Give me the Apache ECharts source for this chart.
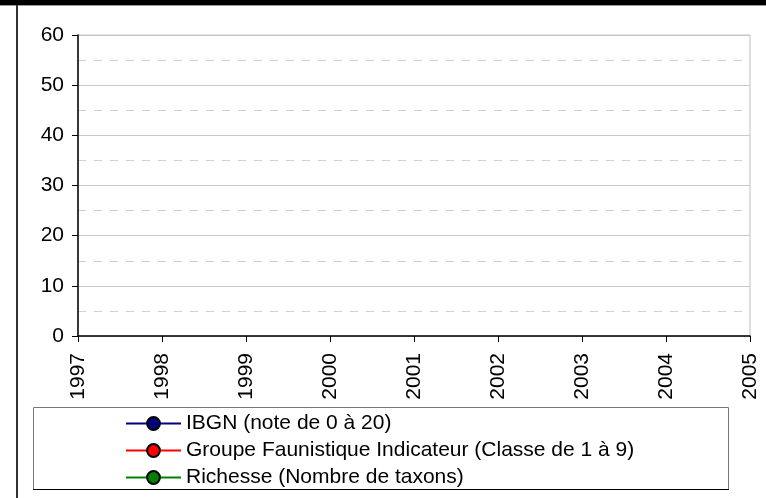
<!DOCTYPE html>
<html>
<head>
<meta charset="utf-8">
<script src="https://cdn.jsdelivr.net/npm/echarts@6/dist/echarts.min.js"></script>
<style>
html, body { margin: 0; padding: 0; background: #fff; }
#charts { width: 766px; height: 498px; }
</style>
</head>
<body>
<div id="charts"></div>
<script>
// annees de l'axe x
var years = ['1997', '1998', '1999', '2000', '2001', '2002', '2003', '2004', '2005'];
// aucune valeur mesuree sur la periode
var ibgnValues = [];
var gfiValues = [];
var richesseValues = [];
var seriesNames = ['IBGN (note de 0 à 20)', 'Groupe Faunistique Indicateur (Classe de 1 à 9)', 'Richesse (Nombre de taxons)'];
var seriesColors = ['#000080', '#ff0000', '#008000'];
var yTicks = [0, 10, 20, 30, 40, 50, 60];

var font = 'Arial, "Liberation Sans", sans-serif';

function makeSeries(i, values) {
	return {
		name: seriesNames[i],
		type: 'line',
		data: values,
		symbol: 'circle',
		symbolSize: 13,
		lineStyle: { color: seriesColors[i], width: 2 },
		itemStyle: { color: seriesColors[i], borderColor: '#000', borderWidth: 1.5 }
	};
}

var myChart = echarts.init(document.getElementById('charts'));
var option = {
	animation: false,
	backgroundColor: '#fff',
	textStyle: { fontFamily: font },
	graphic: [
		// cadre du graphique
		{ type: 'rect', shape: { x: 0, y: 0, width: 766, height: 5 }, style: { fill: '#000' }, z: 10 },
		{ type: 'line', shape: { x1: 0, y1: 5.5, x2: 766, y2: 5.5 }, style: { stroke: '#999', lineWidth: 1 }, z: 10 },
		{ type: 'rect', shape: { x: 16, y: 5, width: 2, height: 493 }, style: { fill: '#333' }, z: 10 },
		// boite de la legende
		{ type: 'rect', shape: { x: 33.5, y: 407.5, width: 695, height: 82 }, style: { fill: '#fff', stroke: '#777', lineWidth: 1 }, z: 0 },
		{ type: 'line', shape: { x1: 33, y1: 489.5, x2: 729, y2: 489.5 }, style: { stroke: '#000', lineWidth: 1 }, z: 1 }
	],
	legend: {
		orient: 'vertical',
		left: 125,
		top: 413,
		padding: 0,
		itemWidth: 55,
		itemHeight: 16,
		itemGap: 6,
		lineStyle: { width: 2 },
		textStyle: { fontSize: 21, color: '#000', fontFamily: font },
		data: seriesNames
	},
	grid: {
		left: 78,
		top: 35,
		right: 16,
		bottom: 162,
		show: true,
		borderColor: '#c0c0c0',
		borderWidth: 1,
		backgroundColor: 'transparent'
	},
	xAxis: {
		type: 'category',
		data: years,
		boundaryGap: false,
		axisLine: { lineStyle: { color: '#000', width: 1.5 } },
		axisTick: { show: true, length: 6, alignWithLabel: true, lineStyle: { color: '#000' } },
		axisLabel: { rotate: 90, fontSize: 21, color: '#000', margin: 17, fontFamily: font },
		splitLine: { show: false }
	},
	yAxis: {
		type: 'value',
		min: yTicks[0],
		max: yTicks[yTicks.length - 1],
		interval: 10,
		axisLine: { show: true, lineStyle: { color: '#000', width: 1.5 } },
		axisTick: { show: true, length: 6, lineStyle: { color: '#000' } },
		axisLabel: { fontSize: 21, color: '#000', margin: 14, fontFamily: font },
		splitLine: { show: true, lineStyle: { color: '#c8c8c8', width: 1 } },
		minorTick: { show: false, splitNumber: 2 },
		minorSplitLine: { show: true, lineStyle: { color: '#d0d0d0', type: [8, 8], width: 1 } }
	},
	series: [
		makeSeries(0, ibgnValues),
		makeSeries(1, gfiValues),
		makeSeries(2, richesseValues)
	]
};
myChart.setOption(option);
</script>
</body>
</html>
